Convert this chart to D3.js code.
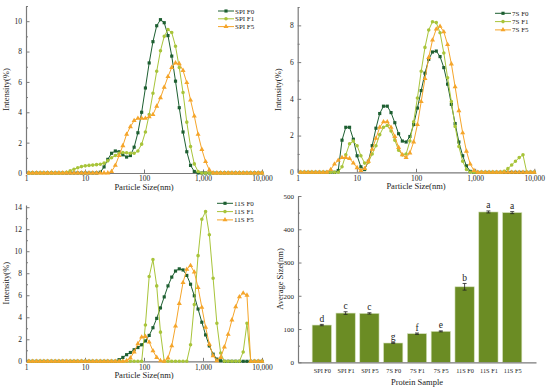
<!DOCTYPE html>
<html>
<head>
<meta charset="utf-8">
<script src="https://cdn.jsdelivr.net/npm/d3@7"></script>
<style>
  body { margin: 0; background: #fff; }
  text { font-family: "Liberation Serif", "Times New Roman", serif; fill: #222; }
</style>
</head>
<body>
<div id="chart"></div>
<script>
var width = 550;
var height = 391;

// particle size bins (nm)
var sizeBins = [1.117,1.294,1.499,1.736,2.010,2.328,2.696,3.122,3.615,4.187,
    4.849,5.615,6.503,7.531,8.721,10.10,11.70,13.54,15.69,18.17,
    21.04,24.36,28.21,32.67,37.84,43.82,50.75,58.77,68.06,78.82,
    91.28,105.7,122.4,141.8,164.2,190.1,220.2,255.0,295.3,342.0,
    396.1,458.7,531.2,615.1,712.4,825.0,955.4,1106,1281,1484,
    1718,1990,2305,2669,3091,3580,4145,4801,5560,6439,
    7456,8635,10000];

var spiF0 = [0,0,0,0,0,0,0,0,0,0,
    0,0,0,0,0,0,0,0,0,0.05,
    0.4,0.9,1.3,1.45,1.4,1.2,1.05,1.15,1.7,2.65,
    4.0,5.6,7.25,8.65,9.7,10.1,9.9,9.05,7.7,6.05,
    4.3,2.7,1.4,0.5,0.1,0,0,0,0,0,
    0,0,0,0,0,0,0,0,0,0,
    0,0,0];
var spiF1 = [0,0,0,0,0,0,0,0,0,0,
    0.05,0.15,0.25,0.35,0.42,0.47,0.5,0.52,0.55,0.58,
    0.65,0.8,1.0,1.15,1.3,1.35,1.33,1.3,1.3,1.45,
    1.9,2.7,3.85,5.25,6.7,8.05,9.0,9.45,9.25,8.35,
    6.95,5.3,3.35,1.75,0.6,0.1,0,0,0,0,
    0,0,0,0,0,0,0,0,0,0,
    0,0,0];
var spiF5 = [0,0,0,0,0,0,0,0,0,0,
    0,0,0,0,0,0,0,0,0,0,
    0,0,0.1,0.5,1.15,1.8,2.55,3.05,3.45,3.6,
    3.6,3.6,3.7,3.85,4.4,4.95,5.65,6.35,6.95,7.25,
    7.2,6.75,5.95,4.8,3.75,2.55,1.55,0.75,0.2,0,
    0,0,0,0,0,0,0,0,0,0,
    0,0,0];

var s7F0 = [0,0,0,0,0,0,0,0,0,0,
    0.1,1.75,2.45,2.45,1.8,0.9,0.3,0.15,0.6,1.45,
    2.4,3.2,3.6,3.6,3.25,2.7,2.1,1.7,1.65,1.95,
    2.6,3.5,4.45,5.4,6.15,6.55,6.6,6.3,5.7,4.8,
    3.7,2.65,1.65,0.9,0.35,0.05,0,0,0,0,
    0,0,0,0,0,0,0,0,0,0,
    0,0,0];
var s7F1 = [0,0,0,0,0,0,0,0,0,0,
    0,0.3,0.95,1.55,1.7,1.45,0.9,0.5,0.55,1.0,
    1.45,2.05,2.45,2.55,2.25,1.75,1.2,0.95,1.0,1.7,
    2.75,4.05,5.5,6.8,7.75,8.2,8.15,7.6,6.5,5.15,
    3.85,2.5,1.4,0.6,0.15,0,0,0,0,0,
    0,0,0,0,0.05,0.2,0.4,0.6,0.8,0.95,
    0,0,0];
var s7F5 = [0,0,0,0,0,0,0,0,0.15,0.45,
    0.65,0.8,0.8,0.75,0.5,0.25,0.1,0.2,0.6,1.25,
    1.85,2.45,2.75,2.75,2.45,1.95,1.35,0.95,0.8,1.05,
    1.65,2.6,3.85,5.1,6.25,7.2,7.8,7.95,7.65,6.95,
    5.9,4.65,3.35,2.15,1.15,0.45,0.1,0,0,0,
    0,0,0,0,0,0,0,0,0,0,
    0,0,0];

var s11F0 = [0,0,0,0,0,0,0,0,0,0,
    0,0,0,0,0,0,0,0,0,0,
    0,0,0,0,0.15,0.35,0.6,0.8,1.05,1.25,
    1.5,1.85,2.35,3.05,3.9,4.85,5.85,6.85,7.65,8.2,
    8.4,8.3,7.8,7.0,5.95,4.75,3.55,2.4,1.4,0.65,
    0.2,0.05,0,0,0,0,0,0,0,0,
    0,0,0];
var s11F1 = [0,0,0,0,0,0,0,0,0,0,
    0,0,0,0,0,0,0,0,0,0,
    0,0,0,0,0,0,0,0,0,0,
    0,3.3,7.7,9.25,6.85,2.65,0,0,0,0,
    0,0,0,1.5,5.15,9.6,12.9,13.6,11.5,7.55,
    3.45,0.75,0,0,0,0,0,0.85,3.45,0,
    0,0,0];
var s11F5 = [0,0,0,0,0,0,0,0,0,0,
    0,0,0,0,0,0,0,0,0,0,
    0,0,0,0,0,0,0.05,0.3,0.85,1.6,
    2.2,2.25,1.75,0.95,0.35,0.05,0,0.3,1.4,3.2,
    5.25,7.15,8.35,8.7,8.1,6.7,4.9,3.1,1.55,0.5,
    0.05,0.35,1.3,2.45,3.75,4.95,5.85,6.2,6.0,0,
    0,0,0];

var sizeTicks = [1, 10, 100, 1000, 10000];

// average size panel
var sampleNames = ["SPI F0","SPI F1","SPI F5","7S F0","7S F1","7S F5","11S F0","11S F1","11S F5"];
var avgSize = [112, 148, 147, 58, 86, 93, 227, 452, 450];
var avgErr = [2, 4, 2, 1, 2, 1.5, 10, 3, 3];
var sigLetters = ["d","c","c","g","f","e","b","a","a"];

var colF0 = "#1d5f31";
var colF1 = "#a8c43a";
var colF5 = "#f5a52a";
var axisCol = "#7a7a7a";

var svg = d3.select("#chart")
            .append("svg")
            .attr("width", width)
            .attr("height", height);

function styleAxis(g) {
    g.selectAll(".domain").attr("stroke", axisCol).attr("stroke-width", 1.2);
    g.selectAll(".tick line").attr("stroke", axisCol);
    g.selectAll(".tick text").style("font-family", "'Liberation Serif', serif").attr("fill", "#333");
}

function distPanel(cfg) {
    var x = d3.scaleLog().domain([1, 10000]).range([cfg.x0, cfg.x1]);
    var y = d3.scaleLinear().domain([0, cfg.yMax]).range([cfg.yb, cfg.yt]);
    var g = svg.append("g");

    var yMinor = g.append("g")
        .attr("transform", "translate(" + cfg.x0 + ",0)")
        .call(d3.axisLeft(y).tickValues(cfg.yMinor).tickSize(-2).tickFormat(""));
    yMinor.select(".domain").remove();
    yMinor.selectAll("line").attr("stroke", axisCol);

    var yAx = g.append("g")
        .attr("transform", "translate(" + cfg.x0 + ",0)")
        .call(d3.axisLeft(y).tickValues(cfg.yTicks).tickSize(-3.5).tickSizeOuter(0).tickPadding(4));
    yAx.selectAll("text").attr("font-size", 7.5);
    styleAxis(yAx);

    var xAx = g.append("g")
        .attr("transform", "translate(0," + cfg.yb + ")")
        .call(d3.axisBottom(x).tickValues(sizeTicks).tickSize(-3.5).tickSizeOuter(0).tickPadding(3)
              .tickFormat(d3.format(",")));
    xAx.selectAll("text").attr("font-size", 7.5);
    styleAxis(xAx);

    g.append("text")
        .attr("transform", "translate(" + (cfg.x0 - 17) + "," + ((cfg.yt + cfg.yb) / 2) + ") rotate(-90)")
        .attr("text-anchor", "middle")
        .attr("font-size", 8.5)
        .text("Intensity(%)");
    g.append("text")
        .attr("x", (cfg.x0 + cfg.x1) / 2)
        .attr("y", cfg.yb + 17)
        .attr("text-anchor", "middle")
        .attr("font-size", 8.5)
        .text("Particle Size(nm)");

    var line = d3.line()
        .x((d, i) => x(sizeBins[i]))
        .y(d => y(d));

    cfg.series.forEach(function(s) {
        g.append("path")
            .attr("d", line(s.values))
            .attr("fill", "none")
            .attr("stroke", s.color)
            .attr("stroke-width", 1);
        g.append("g").selectAll("path")
            .data(s.values)
            .join("path")
            .attr("transform", (d, i) => "translate(" + x(sizeBins[i]) + "," + y(d) + ")")
            .attr("d", d3.symbol().type(s.shape).size(s.size))
            .attr("fill", s.color);
    });

    // legend
    cfg.series.forEach(function(s, i) {
        var ly = cfg.ly + i * cfg.ldy;
        g.append("line")
            .attr("x1", cfg.lx).attr("x2", cfg.lx + 16)
            .attr("y1", ly).attr("y2", ly)
            .attr("stroke", s.color).attr("stroke-width", 1);
        g.append("path")
            .attr("transform", "translate(" + (cfg.lx + 8) + "," + ly + ")")
            .attr("d", d3.symbol().type(s.shape).size(s.size))
            .attr("fill", s.color);
        g.append("text")
            .attr("x", cfg.lx + 17)
            .attr("y", ly + 2.5)
            .attr("font-size", 7)
            .text(s.name);
    });
}

distPanel({
    x0: 26, x1: 262, yb: 173, yt: 6, yMax: 11,
    yTicks: [0, 2, 4, 6, 8, 10], yMinor: [1, 3, 5, 7, 9, 11],
    lx: 218, ly: 11, ldy: 7.8,
    series: [
        {name: "SPI F0", values: spiF0, color: colF0, shape: d3.symbolSquare, size: 10},
        {name: "SPI F1", values: spiF1, color: colF1, shape: d3.symbolCircle, size: 10},
        {name: "SPI F5", values: spiF5, color: colF5, shape: d3.symbolTriangle, size: 11}
    ]
});

distPanel({
    x0: 297.7, x1: 534.3, yb: 172.3, yt: 7, yMax: 9,
    yTicks: [0, 2, 4, 6, 8], yMinor: [1, 3, 5, 7, 9],
    lx: 495, ly: 13.3, ldy: 8.3,
    series: [
        {name: "7S F0", values: s7F0, color: colF0, shape: d3.symbolSquare, size: 10},
        {name: "7S F1", values: s7F1, color: colF1, shape: d3.symbolCircle, size: 10},
        {name: "7S F5", values: s7F5, color: colF5, shape: d3.symbolTriangle, size: 11}
    ]
});

distPanel({
    x0: 26, x1: 262, yb: 361.3, yt: 205, yMax: 14.2,
    yTicks: [0, 2, 4, 6, 8, 10, 12, 14], yMinor: [1, 3, 5, 7, 9, 11, 13],
    lx: 217, ly: 203.3, ldy: 8.3,
    series: [
        {name: "11S F0", values: s11F0, color: colF0, shape: d3.symbolSquare, size: 10},
        {name: "11S F1", values: s11F1, color: colF1, shape: d3.symbolCircle, size: 10},
        {name: "11S F5", values: s11F5, color: colF5, shape: d3.symbolTriangle, size: 11}
    ]
});

// bar panel
var bx = d3.scaleLinear().domain([0, 10]).range([298, 536]);
var by = d3.scaleLinear().domain([0, 500]).range([362.3, 196]);
var barW = bx(0.81) - bx(0);
var bg = svg.append("g");

var byMinor = bg.append("g")
    .attr("transform", "translate(298,0)")
    .call(d3.axisLeft(by).tickValues([50, 150, 250, 350, 450]).tickSize(-2).tickFormat(""));
byMinor.select(".domain").remove();
byMinor.selectAll("line").attr("stroke", axisCol);

var byAx = bg.append("g")
    .attr("transform", "translate(298,0)")
    .call(d3.axisLeft(by).tickValues([0, 100, 200, 300, 400, 500]).tickSize(-3.5).tickSizeOuter(0).tickPadding(4));
byAx.selectAll("text").attr("font-size", 7);
styleAxis(byAx);

bg.selectAll("rect.bar")
    .data(avgSize)
    .join("rect")
    .attr("class", "bar")
    .attr("x", (d, i) => bx(i + 1) - barW / 2)
    .attr("y", d => by(d))
    .attr("width", barW)
    .attr("height", d => by(0) - by(d))
    .attr("fill", "#6b8c24")
    .attr("stroke", "#d5e0bd")
    .attr("stroke-width", 0.6);

var bxAx = bg.append("g")
    .attr("transform", "translate(0,362.3)")
    .call(d3.axisBottom(bx).tickValues(d3.range(1, 10)).tickSize(0).tickPadding(6)
          .tickFormat((d) => sampleNames[d - 1]));
bxAx.selectAll("text").attr("font-size", 6.3);
styleAxis(bxAx);

// error bars
avgSize.forEach(function(v, i) {
    var cx = bx(i + 1);
    var top = by(v + avgErr[i]);
    var bot = by(v - avgErr[i]);
    bg.append("line").attr("x1", cx).attr("x2", cx).attr("y1", top).attr("y2", bot)
        .attr("stroke", "#222").attr("stroke-width", 0.8);
    bg.append("line").attr("x1", cx - 2).attr("x2", cx + 2).attr("y1", top).attr("y2", top)
        .attr("stroke", "#222").attr("stroke-width", 0.8);
    bg.append("line").attr("x1", cx - 2).attr("x2", cx + 2).attr("y1", bot).attr("y2", bot)
        .attr("stroke", "#222").attr("stroke-width", 0.8);
    bg.append("text")
        .attr("x", cx)
        .attr("y", top - 2.5)
        .attr("text-anchor", "middle")
        .attr("font-size", 9.5)
        .text(sigLetters[i]);
});

bg.append("text")
    .attr("transform", "translate(283,279) rotate(-90)")
    .attr("text-anchor", "middle")
    .attr("font-size", 8.5)
    .text("Average Size(nm)");
bg.append("text")
    .attr("x", 417)
    .attr("y", 385)
    .attr("text-anchor", "middle")
    .attr("font-size", 8.5)
    .text("Protein Sample");
</script>
</body>
</html>
